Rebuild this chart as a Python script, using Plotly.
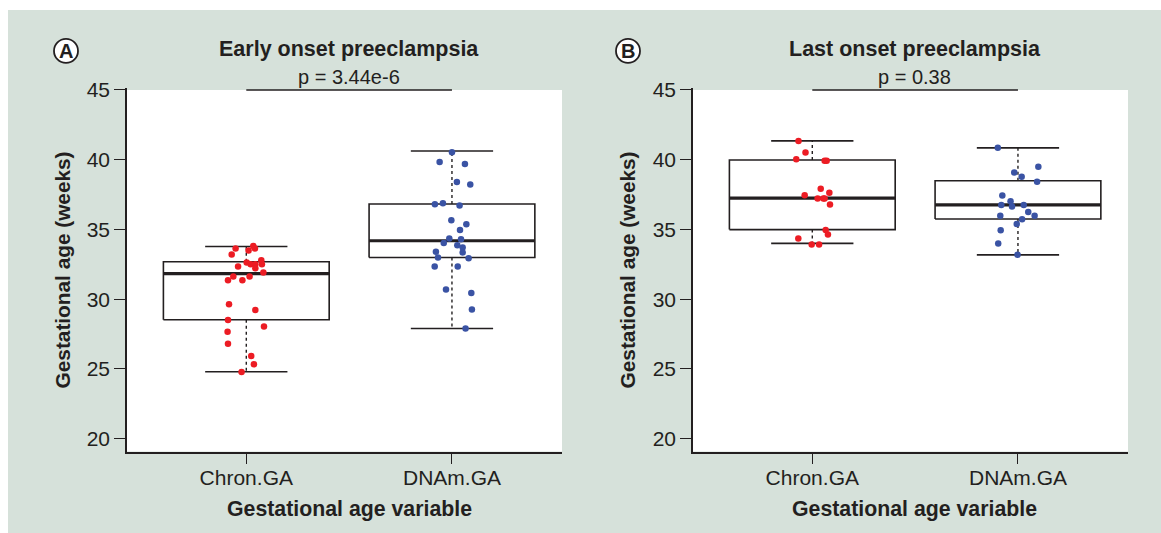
import plotly.graph_objects as go

# ---------------- data ----------------
categories = ["Chron.GA", "DNAm.GA"]
panel_titles = ["Early onset preeclampsia", "Last onset preeclampsia"]
p_values = ["p = 3.44e-6", "p = 0.38"]
y_ticks = [20, 25, 30, 35, 40, 45]

# box statistics: [lower whisker, Q1, median, Q3, upper whisker]
early_chron_stats = [24.8, 28.53, 31.84, 32.68, 33.78]
early_dnam_stats = [27.9, 32.99, 34.19, 36.83, 40.63]
late_chron_stats = [34.0, 34.99, 37.24, 39.98, 41.35]
late_dnam_stats = [33.18, 35.75, 36.76, 38.49, 40.85]

early_chron_vals = [33.64, 33.81, 33.64, 33.50, 33.21, 32.80, 32.63, 32.51, 32.51, 32.51,
                    32.34, 32.22, 31.91, 31.62, 31.62, 31.36, 31.36, 29.63, 29.22, 28.50,
                    28.05, 27.66, 26.80, 25.93, 25.33, 24.78]
early_chron_jit = [-0.052, 0.034, 0.042, 0.011, -0.071, 0.073, 0.002, 0.021, 0.044, 0.076,
                   -0.040, 0.044, 0.083, -0.063, 0.016, -0.089, -0.019, -0.084, 0.044, -0.089,
                   0.086, -0.091, -0.089, 0.024, 0.037, -0.023]

early_dnam_vals = [40.53, 39.84, 39.69, 38.40, 38.23, 36.81, 36.88, 36.71, 35.66, 35.37,
                   34.96, 34.36, 34.29, 34.03, 33.86, 33.71, 33.40, 33.35, 32.99, 32.94,
                   32.34, 32.34, 30.69, 30.45, 29.27, 27.90]
early_dnam_jit = [0.000, -0.060, 0.063, 0.024, 0.089, -0.083, -0.044, 0.037, -0.003, 0.070,
                  0.039, -0.013, 0.044, -0.040, 0.026, 0.052, -0.078, 0.052, -0.068, 0.081,
                  -0.084, 0.028, -0.029, 0.094, 0.097, 0.066]

late_chron_vals = [41.35, 40.51, 40.03, 39.93, 39.93, 37.92, 37.63, 37.46, 37.22, 37.22,
                   37.22, 36.79, 34.96, 34.63, 34.36, 33.93, 33.93]
late_chron_jit = [-0.067, -0.033, -0.078, 0.060, 0.070, 0.041, 0.083, -0.037, 0.026, 0.054,
                  0.060, 0.086, 0.065, 0.076, -0.068, -0.003, 0.033]

late_dnam_vals = [40.85, 39.50, 39.09, 38.78, 38.42, 37.44, 37.03, 36.76, 36.64, 36.76,
                  36.26, 35.99, 35.99, 35.73, 35.39, 34.94, 34.00, 33.18]
late_dnam_jit = [-0.098, 0.099, -0.018, 0.018, 0.093, -0.076, -0.036, -0.081, -0.029, 0.028,
                 0.050, -0.086, 0.081, 0.020, -0.006, -0.084, -0.096, -0.002]

# ---------------- styling ----------------
BG = "#d6e1da"
INK = "#231f20"
RED = "#ec1c24"
BLUE = "#3a53a4"
FONT = "Liberation Sans, Arial, Helvetica, sans-serif"
W, H = 1161, 533
OFF, SC = 11.2, 0.979   # observed page offset / vertical scale of the capture
BOX_HW = 0.403
CAP_HW = 0.20


def py(y_ref):
    """paper y for a reference pixel row"""
    return 1 - ((y_ref - OFF) / SC) / H


fig = go.Figure()


def add_box(stats, pos, xa, ya):
    lo, q1, med, q3, hi = stats
    common = dict(xaxis=xa, yaxis=ya, mode="lines", hoverinfo="skip", showlegend=False)
    fig.add_trace(go.Scatter(x=[pos - BOX_HW, pos + BOX_HW, pos + BOX_HW, pos - BOX_HW, pos - BOX_HW],
                             y=[q1, q1, q3, q3, q1], line=dict(color=INK, width=1.6), **common))
    fig.add_trace(go.Scatter(x=[pos - BOX_HW, pos + BOX_HW], y=[med, med],
                             line=dict(color=INK, width=3.2), **common))
    fig.add_trace(go.Scatter(x=[pos, pos, None, pos, pos], y=[q3, hi, None, q1, lo],
                             line=dict(color=INK, width=1.4, dash="3px,3px"), **common))
    fig.add_trace(go.Scatter(x=[pos - CAP_HW, pos + CAP_HW, None, pos - CAP_HW, pos + CAP_HW],
                             y=[hi, hi, None, lo, lo], line=dict(color=INK, width=1.6), **common))


def add_points(vals, jit, pos, color, xa, ya):
    fig.add_trace(go.Scatter(x=[pos + j for j in jit], y=vals, mode="markers",
                             marker=dict(color=color, size=6.5, line=dict(width=0)),
                             xaxis=xa, yaxis=ya, showlegend=False, hoverinfo="y"))


panels = [
    ("x", "y", early_chron_stats, early_dnam_stats, early_chron_vals, early_chron_jit,
     early_dnam_vals, early_dnam_jit),
    ("x2", "y2", late_chron_stats, late_dnam_stats, late_chron_vals, late_chron_jit,
     late_dnam_vals, late_dnam_jit),
]
for xa, ya, cs, ds, cv, cj, dv, dj in panels:
    add_box(cs, 1, xa, ya)
    add_box(ds, 2, xa, ya)
    add_points(cv, cj, 1, RED, xa, ya)
    add_points(dv, dj, 2, BLUE, xa, ya)
    fig.add_trace(go.Scatter(x=[1, 2], y=[45, 45], mode="lines", xaxis=xa, yaxis=ya,
                             line=dict(color=INK, width=1.6), cliponaxis=False,
                             showlegend=False, hoverinfo="skip"))

Y_MAX = 45.12
y_top = py(91 - (Y_MAX - 45) * 13.88)
y_bot = py(451.7)
domA = [127 / W, 562 / W]
domB = [693 / W, 1128 / W]

xaxis_common = dict(range=[0.42, 2.535], tickmode="array", tickvals=[1, 2], ticktext=categories,
                    showline=True, linecolor=INK, linewidth=1.6, ticks="outside", ticklen=11,
                    tickwidth=1.4, tickcolor=INK, showgrid=False, zeroline=False,
                    ticklabelstandoff=-5,
                    tickfont=dict(family=FONT, size=21, color=INK), fixedrange=True)
yaxis_common = dict(range=[19.08, Y_MAX], tickmode="array", tickvals=y_ticks,
                    showline=True, linecolor=INK, linewidth=1.6, ticks="outside", ticklen=11,
                    tickwidth=1.4, tickcolor=INK, showgrid=False, zeroline=False,
                    tickfont=dict(family=FONT, size=21, color=INK), domain=[y_bot, y_top],
                    fixedrange=True)

fig.update_layout(
    width=W, height=H,
    margin=dict(l=0, r=0, t=0, b=0),
    paper_bgcolor="white",
    plot_bgcolor="white",
    xaxis=dict(domain=domA, anchor="y", **xaxis_common),
    yaxis=dict(anchor="x", **yaxis_common),
    xaxis2=dict(domain=domB, anchor="y2", **xaxis_common),
    yaxis2=dict(anchor="x2", **yaxis_common),
    font=dict(family=FONT, color=INK),
)

fig.add_shape(type="rect", xref="paper", yref="paper", x0=8 / W, x1=1, y0=0, y1=1,
              fillcolor=BG, line=dict(width=0), layer="below")
for dom in (domA, domB):
    fig.add_shape(type="rect", xref="paper", yref="paper", x0=dom[0], x1=dom[1], y0=y_bot, y1=py(91),
                  fillcolor="white", line=dict(width=0), layer="below")

annotations = []
centers = [(246 + 452) / 2 / W, (812 + 1017) / 2 / W]
for i, cx in enumerate(centers):
    annotations.append(dict(x=cx, y=py(50), xref="paper", yref="paper", text="<b>%s</b>" % panel_titles[i],
                            showarrow=False, font=dict(family=FONT, size=21.5, color=INK),
                            xanchor="center", yanchor="middle"))
    annotations.append(dict(x=cx, y=py(78), xref="paper", yref="paper", text=p_values[i],
                            showarrow=False, font=dict(family=FONT, size=20, color=INK),
                            xanchor="center", yanchor="middle"))
    annotations.append(dict(x=cx, y=py(509), xref="paper", yref="paper",
                            text="<b>Gestational age variable</b>",
                            showarrow=False, font=dict(family=FONT, size=21.3, color=INK),
                            xanchor="center", yanchor="middle"))
ylab_x = [62 / W, 627 / W]
for xx in ylab_x:
    annotations.append(dict(x=xx, y=py(271), xref="paper", yref="paper",
                            text="<b>Gestational age (weeks)</b>", textangle=-90,
                            showarrow=False, font=dict(family=FONT, size=20.8, color=INK),
                            xanchor="center", yanchor="middle"))

for letter, cxp in (("A", 66), ("B", 628)):
    fig.add_shape(type="circle", xref="paper", yref="paper",
                  x0=(cxp - 12) / W, x1=(cxp + 12) / W, y0=py(52 + 12), y1=py(52 - 12),
                  line=dict(color=INK, width=1.8), fillcolor="white")
    annotations.append(dict(x=cxp / W, y=py(52), xref="paper", yref="paper", text="<b>%s</b>" % letter,
                            showarrow=False, font=dict(family=FONT, size=20, color=INK),
                            xanchor="center", yanchor="middle"))

fig.update_layout(annotations=annotations)
fig.write_html("out.html", post_script="document.body.style.margin='0px';",
               config={"displayModeBar": False})
